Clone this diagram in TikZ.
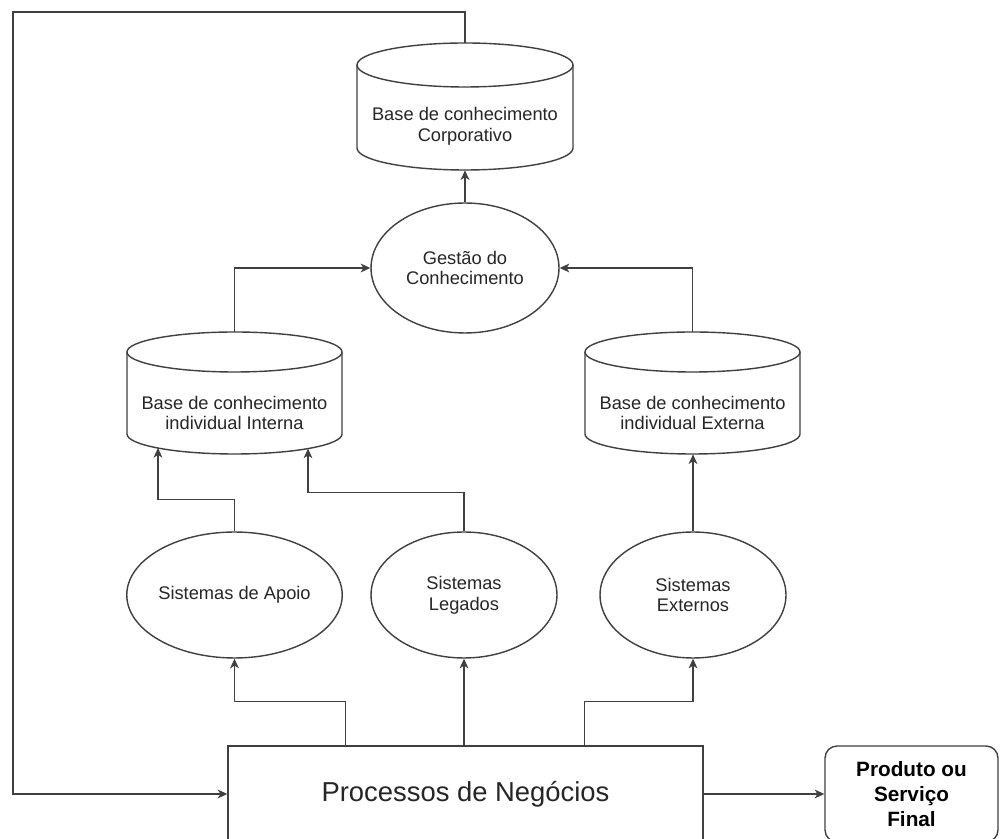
\documentclass[tikz,border=0pt]{standalone}
\usepackage{fontspec}
\setmainfont{Liberation Sans}
\usetikzlibrary{arrows.meta,shapes.geometric,calc}

% outline of an upright cylinder: centre x, top y, bottom y, x radius, y radius
\newcommand{\drawcyl}[5]{%
  \draw[line] (#1,#2-#5) ellipse [x radius=#4, y radius=#5];
  \draw[line] (#1-#4,#2-#5) -- (#1-#4,#3+#5)
    arc[start angle=180, end angle=360, x radius=#4, y radius=#5] -- (#1+#4,#2-#5);
}

\begin{document}
\begin{tikzpicture}[x=0.02cm, y=0.02cm,
  line/.style={draw=black!75, line width=0.8pt},
  arr/.style={line, -{Stealth[length=5.5pt, width=5pt, inset=1.6pt]}},
  txt/.style={text=black!85, font=\fontsize{10.4}{11.9}\selectfont, align=center},
  oval/.style={ellipse, line, inner sep=0pt, minimum width=3.72cm, minimum height=2.52cm, txt},
  cylarea/.style={inner sep=0pt, minimum width=#1, minimum height=2.44cm},
]
\useasboundingbox (0,0) rectangle (1000,838);
\fill[white] (0,0) rectangle (1000,838);

% knowledge bases (cylinders)
\drawcyl{465}{795}{668}{108}{22}
\node[cylarea=4.32cm, minimum height=2.54cm] (corp) at (465,731.5) {};
\node[txt] (corptext) at (465,711.5) {Base de conhecimento\\Corporativo};

\drawcyl{234.5}{506}{384}{107.5}{20}
\node[cylarea=4.3cm] (interna) at (234.5,445) {};
\node[txt] (internatext) at (234.5,425) {Base de conhecimento\\individual Interna};

\drawcyl{692.5}{506}{384}{107.5}{20}
\node[cylarea=4.3cm] (externa) at (692.5,445) {};
\node[txt] (externatext) at (692.5,425) {Base de conhecimento\\individual Externa};

% processes
\node[oval, minimum width=3.76cm, minimum height=2.6cm] (gestao) at (465,570) {Gestão do\\Conhecimento};
\node[oval] (apoio) at (234.5,243) {Sistemas de Apoio};
\node[oval] (legados) at (464,243) {Sistemas\\Legados};
\node[oval] (externos) at (693,243) {Sistemas\\Externos};

% business processes and final product
\node[line, rectangle, inner sep=0pt, minimum width=9.5cm, minimum height=1.92cm,
      text=black!85, font=\fontsize{15.6}{18}\selectfont] (box) at (465.5,44) {Processos de Negócios};
\node[line, rectangle, rounded corners=0.24cm, inner sep=0pt, minimum width=3.46cm, minimum height=1.92cm,
      text=black, align=center, font=\bfseries\fontsize{11.8}{14.2}\selectfont] (prod) at (911.5,44) {Produto ou\\Serviço\\Final};

% connectors
\coordinate (fb) at (13,826);
\draw[arr] (corp.north) |- (fb) |- (box.west);
\draw[arr] (gestao.north) -- (corp.south);
\draw[arr] (interna.north) |- (gestao.west);
\draw[arr] (externa.north) |- (gestao.east);

\coordinate (ia) at (158,390);
\coordinate (ib) at (308,389.4);
\draw[arr] (apoio.north) -- ++(0,32) -| (ia);
\draw[arr] (legados.north) -- ++(0,39) -| (ib);
\draw[arr] (externos.north) -- (externos.north |- externa.south);

\coordinate (b1) at ($(box.north west)+(118,0)$);
\coordinate (b3) at ($(box.north west)+(357,0)$);
\draw[arr] (b1) -- ++(0,44) -| (apoio.south);
\draw[arr] (legados.south |- box.north) -- (legados.south);
\draw[arr] (b3) -- ++(0,44) -| (externos.south);
\draw[arr] (box.east) -- (prod.west);
\end{tikzpicture}
\end{document}
